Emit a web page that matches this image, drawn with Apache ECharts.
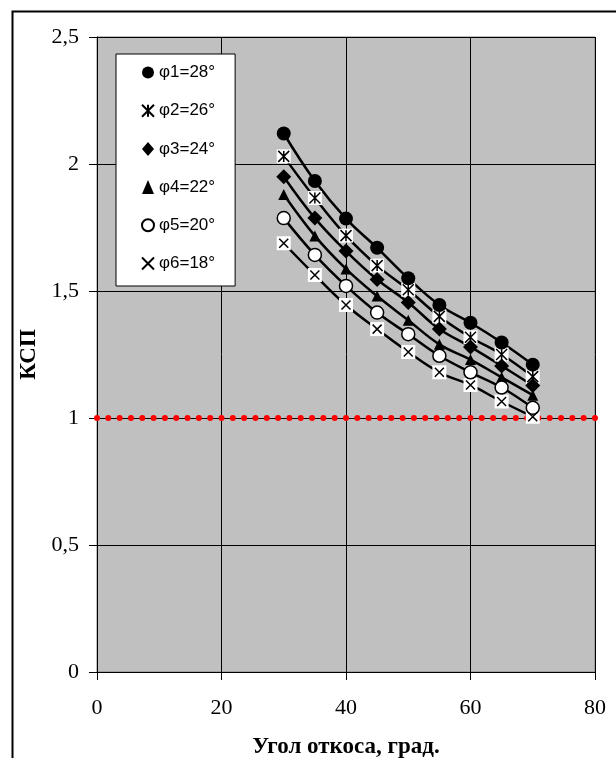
<!DOCTYPE html>
<html lang="ru">
<head>
  <meta charset="UTF-8">
  <title>КСП</title>
  <script src="https://cdn.jsdelivr.net/npm/echarts@6/dist/echarts.min.js"></script>
  <style>
    html,body{padding:0;margin:0;background:#fff;}
    #chart{width:616px;height:758px;}
  </style>
</head>
<body>
  <div id="chart"></div>
  <script>
    // угол откоса, град.
    var angles = [30, 35, 40, 45, 50, 55, 60, 65, 70]
    var names = ['φ1=28°', 'φ2=26°', 'φ3=24°', 'φ4=22°', 'φ5=20°', 'φ6=18°']
    var phi1 = [2.12, 1.933, 1.785, 1.67, 1.55, 1.445, 1.375, 1.297, 1.21]
    var phi2 = [2.03, 1.866, 1.718, 1.6, 1.505, 1.40, 1.318, 1.25, 1.163]
    var phi3 = [1.95, 1.787, 1.657, 1.545, 1.455, 1.35, 1.28, 1.205, 1.128]
    var phi4 = [1.88, 1.717, 1.587, 1.48, 1.385, 1.29, 1.23, 1.16, 1.09]
    var phi5 = [1.787, 1.642, 1.52, 1.415, 1.33, 1.245, 1.18, 1.12, 1.04]
    var phi6 = [1.688, 1.563, 1.445, 1.35, 1.26, 1.18, 1.13, 1.065, 1.005]
    var limitLine = [[0, 1], [80, 1]] // КСП = 1
    var xTicks = [0, 20, 40, 60, 80]
    var yTicks = [0, 0.5, 1, 1.5, 2, 2.5]

    var all = [phi1, phi2, phi3, phi4, phi5, phi6]
    function pts(arr){ return arr.map(function(v, i){ return [angles[i], v] }) }

    var XMARK = 'path://M0,0L10,10M10,0L0,10'
    var STAR = 'path://M0,0L10,10M10,0L0,10M5,0L5,10'
    var markers = [
      {symbol:'circle', size:14, itemStyle:{color:'#000', opacity:1}},
      {symbol:STAR, size:11, itemStyle:{color:'#000', borderColor:'#000', borderWidth:1.5, opacity:1}, box:true},
      {symbol:'diamond', size:15, itemStyle:{color:'#000', opacity:1}},
      {symbol:'triangle', size:11, itemStyle:{color:'#000', opacity:1}},
      {symbol:'circle', size:13, itemStyle:{color:'#fff', borderColor:'#000', borderWidth:1.5, opacity:1}},
      {symbol:XMARK, size:9, itemStyle:{color:'#000', borderColor:'#000', borderWidth:1.5, opacity:1}, box:true}
    ]

    var series = []
    // сглаженные линии
    all.forEach(function(arr, k){
      series.push({
        name: 'line' + k, type: 'line', smooth: 0.4, z: 2,
        showSymbol: false, symbol: 'none',
        lineStyle: {color: '#000', width: 2.5},
        data: pts(arr)
      })
    })
    series.push({
      name: 'limit', type: 'line', symbol: 'none', z: 3,
      lineStyle: {color: '#ff0000', width: 6, type: [0, 11.318], cap: 'round'},
      data: limitLine
    })
    // белые квадраты под маркерами
    all.forEach(function(arr, k){
      if (!markers[k].box) return
      series.push({
        name: 'box' + k, type: 'scatter', z: 4, symbol: 'rect', symbolSize: 14,
        itemStyle: {color: '#fff', opacity: 1}, data: pts(arr)
      })
    })
    all.forEach(function(arr, k){
      series.push({
        name: names[k], type: 'scatter', z: 5,
        symbol: markers[k].symbol, symbolSize: markers[k].size,
        itemStyle: markers[k].itemStyle,
        data: pts(arr)
      })
    })

    var comma = function(v){ return String(v).replace('.', ',') }
    var serif = '"Liberation Serif", "Times New Roman", serif'

    var option = {
      animation: false,
      textStyle: {fontFamily: serif},
      graphic: [{
        type: 'rect', left: 10, top: 9, z: -1,
        shape: {width: 700, height: 800},
        style: {fill: 'none', stroke: '#000', lineWidth: 2}
      }],
      legend: {
        orient: 'vertical', left: 116, top: 54,
        data: names,
        itemWidth: 12, itemHeight: 14, itemGap: 21.2,
        padding: [10, 20, 14, 25],
        backgroundColor: '#fff', borderColor: '#000', borderWidth: 1,
        textStyle: {fontFamily: '"Liberation Sans", Arial, sans-serif', fontSize: 17, color: '#000'}
      },
      grid: {
        left: 97, right: 21, top: 37, bottom: 86,
        containLabel: false, outerBoundsMode: 'none',
        show: true, backgroundColor: '#c0c0c0', borderColor: '#808080', borderWidth: 1
      },
      xAxis: {
        type: 'value', min: xTicks[0], max: xTicks[xTicks.length - 1], interval: 20,
        name: 'Угол откоса, град.', nameLocation: 'middle', nameGap: 64,
        nameTextStyle: {fontFamily: serif, fontWeight: 'bold', fontSize: 23, color: '#000'},
        axisLine: {show: true, lineStyle: {color: '#000', width: 1}},
        axisTick: {show: true, length: 8, lineStyle: {color: '#000'}},
        axisLabel: {fontSize: 22, color: '#000', margin: 25, formatter: comma},
        splitLine: {show: true, lineStyle: {color: '#000', width: 1}}
      },
      yAxis: {
        type: 'value', min: yTicks[0], max: yTicks[yTicks.length - 1], interval: 0.5,
        name: 'КСП', nameLocation: 'middle', nameGap: 56,
        nameTextStyle: {fontFamily: serif, fontWeight: 'bold', fontSize: 23, color: '#000'},
        axisLine: {show: true, lineStyle: {color: '#000', width: 1}},
        axisTick: {show: true, length: 8, lineStyle: {color: '#000'}},
        axisLabel: {fontSize: 22, color: '#000', margin: 18, formatter: comma},
        splitLine: {show: true, lineStyle: {color: '#000', width: 1}}
      },
      series: series
    }

    var myChart = echarts.init(document.getElementById('chart'))
    myChart.setOption(option)
  </script>
</body>
</html>
